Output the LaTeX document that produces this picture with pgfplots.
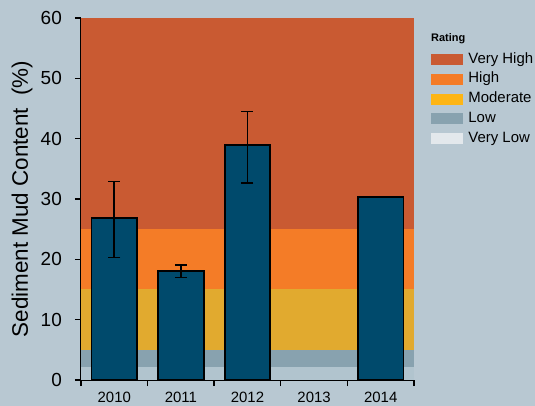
\documentclass[border=0pt]{standalone}
\usepackage{pgfplots}
\pgfplotsset{compat=1.18}
\usepackage{fontspec}
\setmainfont{Liberation Sans}
\definecolor{bgc}{HTML}{B8C8D2}
\definecolor{vhc}{HTML}{C95A32}
\definecolor{hic}{HTML}{F47C27}
\definecolor{moc}{HTML}{E1AA2F}
\definecolor{loc}{HTML}{88A2AF}
\definecolor{vlc}{HTML}{B1C4CE}
\definecolor{molg}{HTML}{FDB515}
\definecolor{vllg}{HTML}{E3E8EC}
\definecolor{barc}{HTML}{004A6C}
\begin{document}
\begin{tikzpicture}
\fill[bgc] (-81bp,-26bp) rectangle (454bp,380bp);
\begin{axis}[
  at={(0,0)}, anchor=south west,
  scale only axis, width=333bp, height=362bp,
  xmin=-0.5, xmax=4.5, ymin=0, ymax=60,
  /pgf/number format/assume math mode=true,
  axis lines=left, axis line style={-, line width=1.8bp, black},
  ytick={0,10,...,60},
  xtick={-0.5,0.5,...,4.5}, xticklabels={},
  extra x ticks={0,1,2,3,4},
  extra x tick labels={2010,2011,2012,2013,2014},
  extra x tick style={major tick length=0pt},
  tick align=outside, major tick length=6bp,
  tick style={black, line width=1.4bp},
  yticklabel style={inner sep=0pt, xshift=-13bp, font=\fontsize{19}{22}\selectfont},
  xticklabel style={inner sep=0pt, yshift=-12bp, font=\fontsize{15}{18}\selectfont},
  ylabel={Sediment Mud Content\ \ (\%)},
  ylabel style={at={(axis description cs:-0.177,0.5)}, anchor=center, inner sep=0pt, font=\fontsize{22.5}{26}\selectfont},
  legend style={draw=none, fill=none, inner sep=0pt, outer sep=0pt,
    at={(axis description cs:1.0511,0.9047)}, anchor=north west,
    nodes={inner sep=0pt, text height=10.5bp, text depth=3bp, font=\fontsize{15}{17}\selectfont},
    row sep=6.3bp,
    /tikz/every odd column/.append style={column sep=6bp}},
  legend cell align=left,
  clip=false,
]
\addplot[fill=vhc, draw=none, forget plot] coordinates {(-0.5,60) (4.5,60)} \closedcycle;
\addplot[fill=hic, draw=none, forget plot] coordinates {(-0.5,25) (4.5,25)} \closedcycle;
\addplot[fill=moc, draw=none, forget plot] coordinates {(-0.5,15) (4.5,15)} \closedcycle;
\addplot[fill=loc, draw=none, forget plot] coordinates {(-0.5,5) (4.5,5)} \closedcycle;
\addplot[fill=vlc, draw=none, forget plot] coordinates {(-0.5,2.2) (4.5,2.2)} \closedcycle;
\addplot[ybar, bar width=0.685, fill=barc, draw=black, line width=1.8bp, forget plot,
  error bars/.cd, y dir=both, y explicit,
  error bar style={line width=1.8bp, black},
  error mark options={rotate=90, mark size=6bp, line width=1.8bp, black}]
  coordinates {(0,26.8) += (0,6.1) -= (0,6.5)
               (1,18.0) += (0,1.05) -= (0,1.0)
               (2,38.9) += (0,5.6) -= (0,6.2)};
\addplot[ybar, bar width=0.685, fill=barc, draw=black, line width=1.8bp, forget plot]
  coordinates {(4,30.3)};
\addlegendimage{legend image code/.code={\fill[vhc] (0bp,-5bp) rectangle (31bp,5bp);}}
\addlegendentry{Very High}
\addlegendimage{legend image code/.code={\fill[hic] (0bp,-5bp) rectangle (31bp,5bp);}}
\addlegendentry{High}
\addlegendimage{legend image code/.code={\fill[molg] (0bp,-5bp) rectangle (31bp,5bp);}}
\addlegendentry{Moderate}
\addlegendimage{legend image code/.code={\fill[loc] (0bp,-5bp) rectangle (31bp,5bp);}}
\addlegendentry{Low}
\addlegendimage{legend image code/.code={\fill[vllg] (0bp,-5bp) rectangle (31bp,5bp);}}
\addlegendentry{Very Low}
\node[anchor=west, inner sep=0pt, font=\bfseries\fontsize{11}{13}\selectfont] at (axis description cs:1.0511,0.9439) {Rating};
\end{axis}
\end{tikzpicture}
\end{document}
